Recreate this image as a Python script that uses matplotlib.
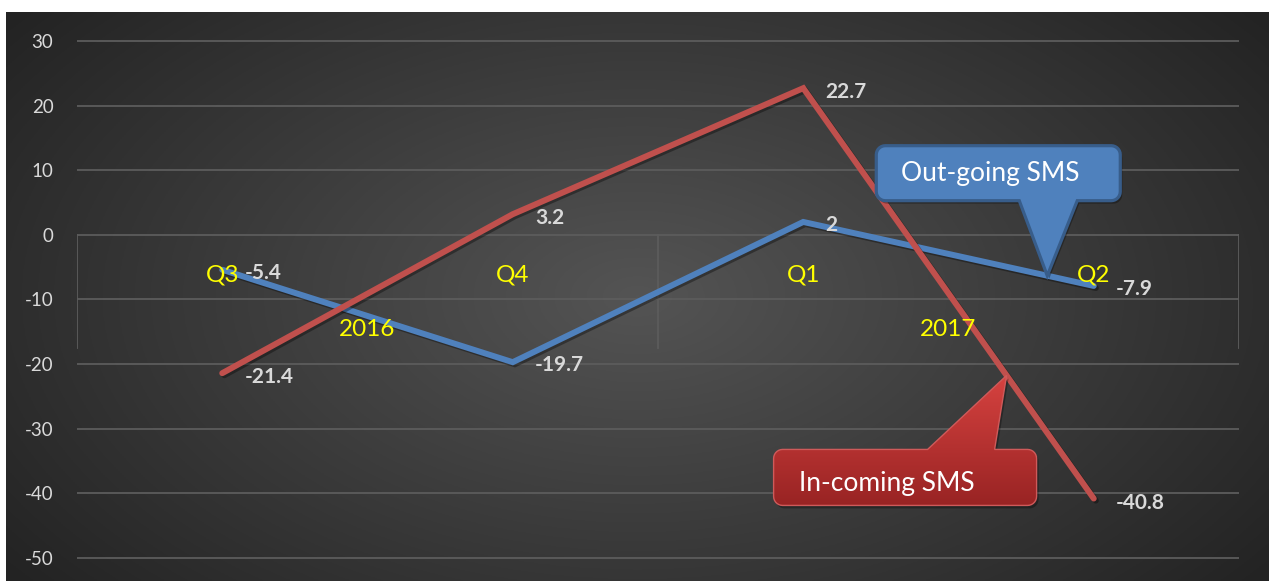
import numpy as np
import matplotlib
matplotlib.use("Agg")
import matplotlib.pyplot as plt
import matplotlib.patheffects as pe
from matplotlib.patches import Polygon

plt.rcParams['font.family'] = ['Lato', 'DejaVu Sans']

# --- data ---
quarters = ["Q3", "Q4", "Q1", "Q2"]
years = ["2016", "2017"]
outgoing = [-5.4, -19.7, 2, -7.9]
incoming = [-21.4, 3.2, 22.7, -40.8]
yticks = [30, 20, 10, 0, -10, -20, -30, -40, -50]

W, H = 1269, 581
fig = plt.figure(figsize=(W / 100, H / 100), dpi=100, facecolor='white')

# dark radial background
bg = fig.add_axes([6 / W, 0, 1 - 6 / W, 1 - 12 / H])
bg.set_axis_off()
yy, xx = np.mgrid[0:1:300j, 0:1:600j]
r = np.sqrt(((xx - 0.5) / 0.62) ** 2 + ((yy - 0.5) / 0.8) ** 2)
shade = np.clip(1 - r, 0, 1) ** 1.0
c_edge, c_mid = 0.14, 0.33
img = c_edge + (c_mid - c_edge) * shade
bg.imshow(np.dstack([img, img, img]), aspect='auto', extent=[0, 1, 0, 1])
bg.set_xlim(0, 1)
bg.set_ylim(0, 1)

# main axes
px_per_unit = 517 / 80
top_val = 30 + (41 - 12) / px_per_unit
bot_val = -50 - (581 - 558) / px_per_unit
ax = fig.add_axes([77 / W, 0, (1239 - 77) / W, (H - 12) / H])
ax.patch.set_alpha(0)
ax.set_xlim(-0.5, 3.5)
ax.set_ylim(bot_val, top_val)
for s in ax.spines.values():
    s.set_visible(False)

grid_c = '#5c5c5c'
for v in yticks:
    ax.axhline(v, color=grid_c, lw=1.3, zorder=1)
sep_bottom = -17.5
for xv in [-0.5, 1.5, 3.5]:
    ax.plot([xv, xv], [0, sep_bottom], color=grid_c, lw=1.3, zorder=1)

ax.set_xticks([])
ax.set_yticks(yticks)
ax.set_yticklabels([str(v) for v in yticks], color='#d9d9d9', fontsize=13.5)
ax.tick_params(axis='y', length=0, pad=17)

x = np.arange(len(quarters))
shadow = [pe.SimpleLineShadow(offset=(1.5, -1.5), alpha=0.35, shadow_color='black'), pe.Normal()]
ax.plot(x, outgoing, color='#4f81bd', lw=4.3, solid_capstyle='round',
        solid_joinstyle='miter', zorder=3, path_effects=shadow)
ax.plot(x, incoming, color='#c0504d', lw=4.3, solid_capstyle='round',
        solid_joinstyle='miter', zorder=3, path_effects=shadow)

# value labels
for xi, v in zip(x, outgoing):
    ax.annotate(f"{v:g}", (xi, v), xytext=(16, -2), textcoords='offset points',
                ha='left', va='center', color='#d9d9d9', fontsize=15,
                fontweight='bold', zorder=6)
for xi, v in zip(x, incoming):
    ax.annotate(f"{v:g}", (xi, v), xytext=(16, -3), textcoords='offset points',
                ha='left', va='center', color='#d9d9d9', fontsize=15,
                fontweight='bold', zorder=6)

# category labels
for xi, q in zip(x, quarters):
    ax.text(xi, -6.2, q, ha='center', va='center', color='#ffff00', fontsize=17.5, zorder=5)
for i, yr in enumerate(years):
    ax.text(2 * i + 0.5, -14.7, yr, ha='center', va='center', color='#ffff00', fontsize=17.5, zorder=5)


# callouts (built in display pixels, y up)
def rounded_callout(tip, box, base, rad=9):
    # box: (x0, x1, y0, y1) offsets from tip in pixels, y up; base: (bx0, bx1)
    tx, ty = tip
    x0, x1, y0, y1 = box
    below = y1 < 0  # box lies under the tip
    t = np.linspace(0, np.pi / 2, 8)
    pts = []
    cx, cy = x0 + rad, y1 - rad
    pts += [(cx - rad * np.cos(a), cy + rad * np.sin(a)) for a in t]
    if below:
        pts += [(base[0], y1), (0, 0), (base[1], y1)]
    cx, cy = x1 - rad, y1 - rad
    pts += [(cx + rad * np.sin(a), cy + rad * np.cos(a)) for a in t]
    cx, cy = x1 - rad, y0 + rad
    pts += [(cx + rad * np.cos(a), cy - rad * np.sin(a)) for a in t]
    if not below:
        pts += [(base[1], y0), (0, 0), (base[0], y0)]
    cx, cy = x0 + rad, y0 + rad
    pts += [(cx - rad * np.sin(a), cy - rad * np.cos(a)) for a in t]
    return np.array([(tx + px, ty + py) for px, py in pts])


def point_on(series, frac_x):
    i = int(frac_x)
    f = frac_x - i
    return frac_x, series[i] + (series[i + 1] - series[i]) * f


# overlay axes in pixel units for the callouts
gax = fig.add_axes([0, 0, 1, 1], zorder=5)
gax.set_axis_off()
gax.patch.set_alpha(0)
gax.set_xlim(0, W)
gax.set_ylim(0, H)

fig.canvas.draw()
tip_b = ax.transData.transform(point_on(outgoing, 2.84))
poly_b = rounded_callout(tip_b, (-171, 73, 75, 130), (-28, 30))
gax.add_patch(Polygon(poly_b + [2, -3], closed=True, facecolor='black', alpha=0.3,
                      edgecolor='none', zorder=1))
gax.add_patch(Polygon(poly_b, closed=True, facecolor='#4f81bd',
                      edgecolor='#385d8a', lw=2.3, zorder=2))
gax.text(tip_b[0] - 57, tip_b[1] + 102, "Out-going SMS", ha='center', va='center',
         color='white', fontsize=19, zorder=4)

tip_r = ax.transData.transform(point_on(incoming, 2.70))
poly_r = rounded_callout(tip_r, (-233, 30, -130, -74), (-79, -12))
gax.add_patch(Polygon(poly_r + [2, -3], closed=True, facecolor='black', alpha=0.3,
                      edgecolor='none', zorder=1))
# gradient fill clipped to the callout shape
ymin, ymax = poly_r[:, 1].min(), poly_r[:, 1].max()
grad = np.linspace(0, 1, 100)[:, None]
top_c = np.array([0.84, 0.26, 0.25])
bot_c = np.array([0.60, 0.14, 0.14])
gimg = bot_c + (top_c - bot_c) * grad[..., None] * np.ones((1, 2, 1))
im = gax.imshow(gimg, extent=[poly_r[:, 0].min(), poly_r[:, 0].max(), ymin, ymax],
                origin='lower', aspect='auto', zorder=2)
clip = Polygon(poly_r, closed=True, facecolor='none', edgecolor='#cf5a5a', lw=1.0, zorder=3)
gax.add_patch(clip)
im.set_clip_path(clip)
gax.set_xlim(0, W)
gax.set_ylim(0, H)
gax.text(tip_r[0] - 120, tip_r[1] - 108, "In-coming SMS", ha='center', va='center',
         color='white', fontsize=19, zorder=4)

fig.savefig("out.png", dpi=100, facecolor='white')
